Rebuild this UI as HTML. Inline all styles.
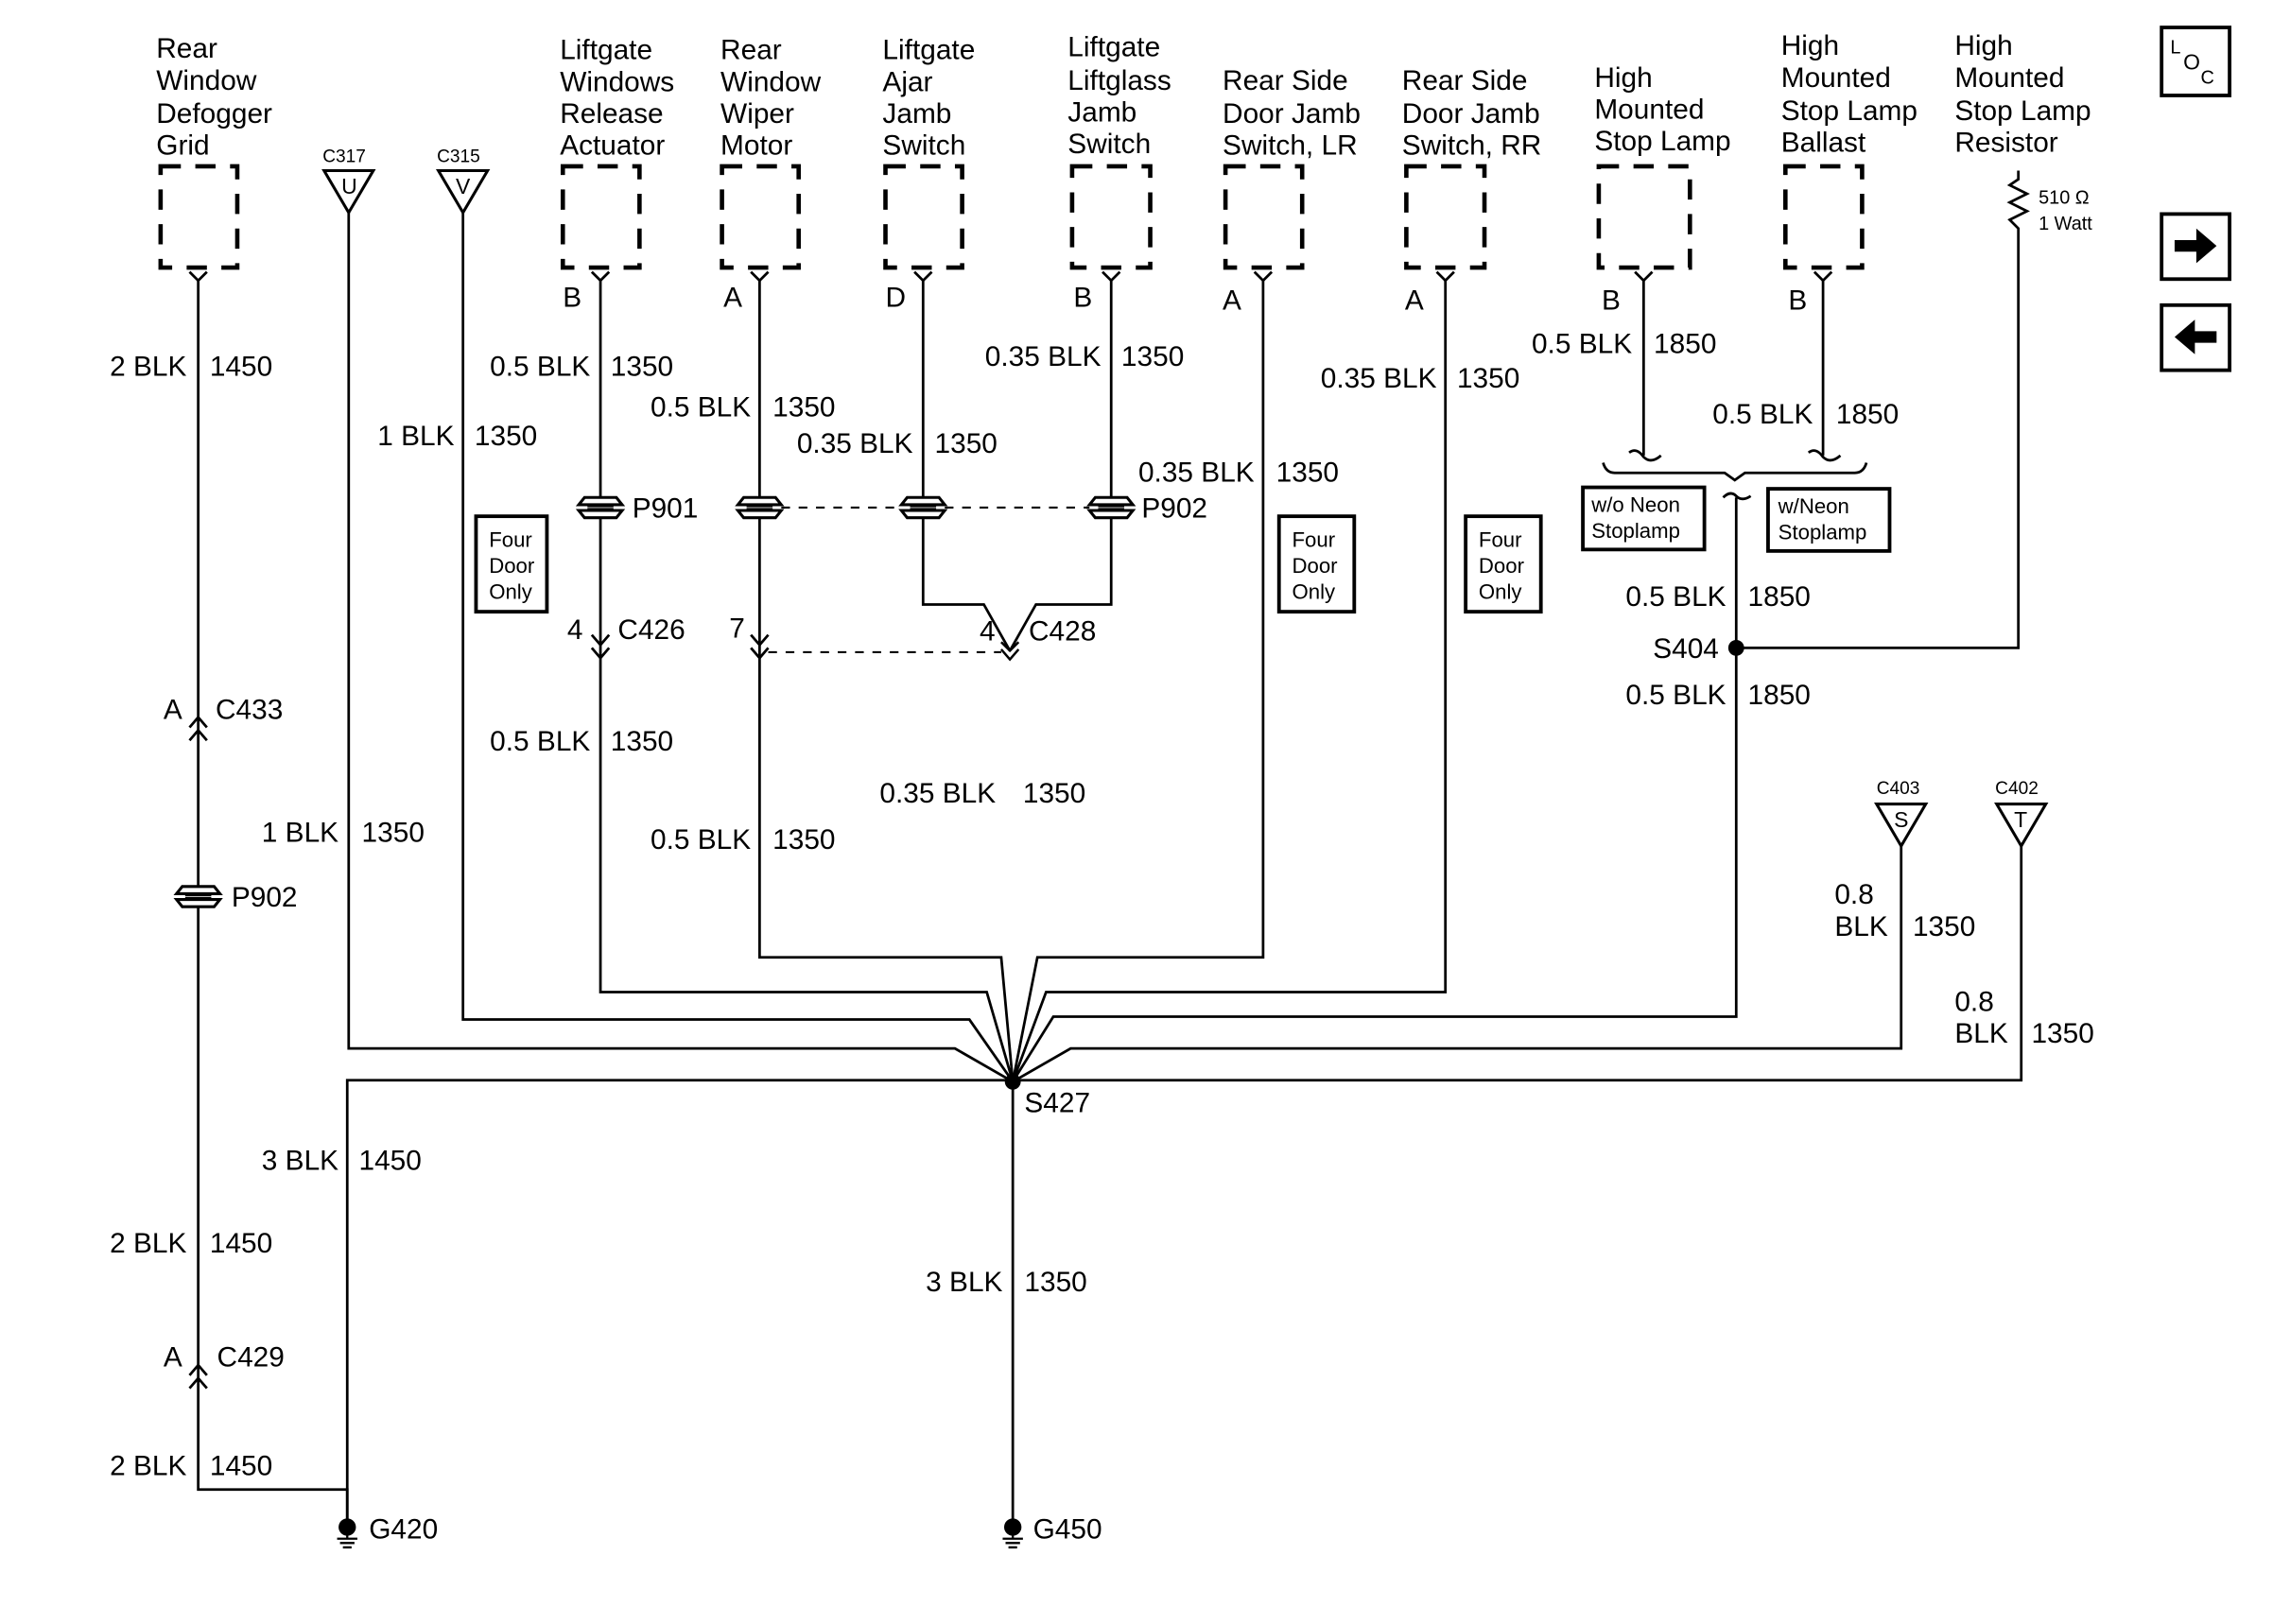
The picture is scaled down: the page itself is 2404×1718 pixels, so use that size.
<!DOCTYPE html>
<html><head><meta charset="utf-8"><style>
html,body{margin:0;padding:0;background:#fff}
svg{display:block}
text{font-family:"Liberation Sans",Arial,sans-serif;fill:#000}
</style></head><body>
<svg width="2404" height="1718" viewBox="0 0 1571 1123" preserveAspectRatio="none" xmlns="http://www.w3.org/2000/svg">
<defs>
<g id="pc"><rect x="-14" y="-7" width="28" height="14" fill="#fff"/><path d="M-15,-2 L-11,-7 H11 L15,-2 Z M-15,2 L-11,7 H11 L15,2 Z" fill="none" stroke="#000" stroke-width="2"/><path d="M-9,-1 H9 M-9,1 H9" stroke="#000" stroke-width="1.5"/></g>
<g id="yc"><path d="M-6,-6 L0,0 L6,-6" fill="none" stroke="#000" stroke-width="1.8"/></g>
<g id="dn"><path d="M-6,-7 L0,0 L6,-7 M-6,2 L0,9 L6,2" fill="none" stroke="#000" stroke-width="1.8"/></g>
<g id="up"><path d="M-6,7 L0,0 L6,7 M-6,-2 L0,-9 L6,-2" fill="none" stroke="#000" stroke-width="1.8"/></g>
<g id="gnd"><circle r="6" fill="#000"/><path d="M0,0 V8 M-7,8 H7 M-5,11 H5 M-3,14 H3" stroke="#000" stroke-width="1.5"/></g>
</defs>
<g font-size="19.5">
<text x="108" y="40">Rear</text><text x="108" y="62">Window</text><text x="108" y="85">Defogger</text><text x="108" y="107">Grid</text>
<text x="387" y="41">Liftgate</text><text x="387" y="63">Windows</text><text x="387" y="85">Release</text><text x="387" y="107">Actuator</text>
<text x="498" y="41">Rear</text><text x="498" y="63">Window</text><text x="498" y="85">Wiper</text><text x="498" y="107">Motor</text>
<text x="610" y="41">Liftgate</text><text x="610" y="63">Ajar</text><text x="610" y="85">Jamb</text><text x="610" y="107">Switch</text>
<text x="738" y="39">Liftgate</text><text x="738" y="62">Liftglass</text><text x="738" y="84">Jamb</text><text x="738" y="106">Switch</text>
<text x="845" y="62">Rear Side</text><text x="845" y="85">Door Jamb</text><text x="845" y="107">Switch, LR</text>
<text x="969" y="62">Rear Side</text><text x="969" y="85">Door Jamb</text><text x="969" y="107">Switch, RR</text>
<text x="1102" y="60">High</text><text x="1102" y="82">Mounted</text><text x="1102" y="104">Stop Lamp</text>
<text x="1231" y="38">High</text><text x="1231" y="60">Mounted</text><text x="1231" y="83">Stop Lamp</text><text x="1231" y="105">Ballast</text>
<text x="1351" y="38">High</text><text x="1351" y="60">Mounted</text><text x="1351" y="83">Stop Lamp</text><text x="1351" y="105">Resistor</text>
</g>
<g fill="none" stroke="#000" stroke-width="3" stroke-dasharray="14,10">
<rect x="111" y="115" width="53" height="70"/>
<rect x="389" y="115" width="53" height="70"/>
<rect x="499" y="115" width="53" height="70"/>
<rect x="612" y="115" width="53" height="70"/>
<rect x="741" y="115" width="54" height="70"/>
<rect x="847" y="115" width="53" height="70"/>
<rect x="972" y="115" width="54" height="70"/>
<rect x="1105" y="115" width="63" height="70"/>
<rect x="1234" y="115" width="53" height="70"/>
</g>
<g>
<use href="#yc" x="137" y="194"/><use href="#yc" x="415" y="194"/><use href="#yc" x="525" y="194"/><use href="#yc" x="638" y="194"/><use href="#yc" x="768" y="194"/><use href="#yc" x="873" y="194"/><use href="#yc" x="999" y="194"/><use href="#yc" x="1136" y="194"/><use href="#yc" x="1260" y="194"/>
</g>
<g font-size="19.5">
<text x="389" y="212">B</text><text x="500" y="212">A</text><text x="612" y="212">D</text><text x="742" y="212">B</text><text x="845" y="214">A</text><text x="971" y="214">A</text><text x="1107" y="214">B</text><text x="1236" y="214">B</text>
</g>
<g font-size="12.5"><text x="223" y="112">C317</text><text x="302" y="112">C315</text><text x="1297" y="549">C403</text><text x="1379" y="549">C402</text></g>
<g fill="none" stroke="#000" stroke-width="2"><path d="M224,118 H258 L241,147 Z"/><path d="M303,118 H337 L320,147 Z"/><path d="M1297,556 H1331 L1314,585 Z"/><path d="M1380,556 H1414 L1397,585 Z"/></g>
<g font-size="15"><text x="236" y="134">U</text><text x="315" y="134">V</text><text x="1309" y="572">S</text><text x="1392" y="572">T</text></g>
<g fill="none" stroke="#000" stroke-width="1.8">
<path d="M137,194 V1030 H240 V1056"/>
<path d="M241,147 V725 H660 L700,748"/>
<path d="M320,147 V705 H670 L700,748"/>
<path d="M415,194 V686 H682 L700,748"/>
<path d="M525,194 V662 H692 L700,748"/>
<path d="M638,194 V418 H680 L698,450"/>
<path d="M768,194 V418 H716 L698,450"/>
<path d="M873,194 V662 H717 L700,748"/>
<path d="M999,194 V686 H723 L700,748"/>
<path d="M1136,194 V315"/><path d="M1260,194 V315"/>
<path d="M1126,313 Q1131,309 1136,316 Q1141,321 1148,315"/>
<path d="M1250,313 Q1255,309 1260,316 Q1265,321 1272,315"/>
<path d="M1108,320 Q1110,327 1116,327 H1192 L1199,332 L1206,327 H1282 Q1288,327 1290,320"/>
<path d="M1191,344 Q1196,339 1200,343 Q1204,347 1210,343"/>
<path d="M1200,344 V703 H728 L700,748"/>
<path d="M1395,118 V124 L1389,128 L1401,134 L1389,140 L1401,146 L1389,152 L1395,158 V448 H1200"/>
<path d="M1314,585 V725 H740 L700,748"/>
<path d="M1397,585 V747 H240 V1056"/>
<path d="M700,748 V1056"/>
</g>
<g fill="none" stroke="#000" stroke-width="1.4" stroke-dasharray="6,6">
<path d="M540,351 H623 M653,351 H753"/>
<path d="M531,451 H692"/>
</g>
<circle cx="700" cy="748" r="5.5"/><circle cx="1200" cy="448" r="5.5"/>
<use href="#gnd" x="240" y="1056"/><use href="#gnd" x="700" y="1056"/>
<use href="#pc" x="415" y="351"/><use href="#pc" x="525" y="351"/><use href="#pc" x="638" y="351"/><use href="#pc" x="768" y="351"/><use href="#pc" x="137" y="620"/>
<use href="#dn" x="415" y="446"/><use href="#dn" x="525" y="446"/>
<path d="M692,444 L698,450 L704,444 M692,449 L698,456 L704,449" fill="none" stroke="#000" stroke-width="1.6"/>
<use href="#up" x="137" y="505"/><use href="#up" x="137" y="953"/>
<g font-size="19.5">
<text x="129" y="260" text-anchor="end">2 BLK</text><text x="145" y="260">1450</text>
<text x="314" y="308" text-anchor="end">1 BLK</text><text x="328" y="308">1350</text>
<text x="408" y="260" text-anchor="end">0.5 BLK</text><text x="422" y="260">1350</text>
<text x="519" y="288" text-anchor="end">0.5 BLK</text><text x="534" y="288">1350</text>
<text x="631" y="313" text-anchor="end">0.35 BLK</text><text x="646" y="313">1350</text>
<text x="761" y="253" text-anchor="end">0.35 BLK</text><text x="775" y="253">1350</text>
<text x="867" y="333" text-anchor="end">0.35 BLK</text><text x="882" y="333">1350</text>
<text x="993" y="268" text-anchor="end">0.35 BLK</text><text x="1007" y="268">1350</text>
<text x="1128" y="244" text-anchor="end">0.5 BLK</text><text x="1143" y="244">1850</text>
<text x="1253" y="293" text-anchor="end">0.5 BLK</text><text x="1269" y="293">1850</text>
<text x="1193" y="419" text-anchor="end">0.5 BLK</text><text x="1208" y="419">1850</text>
<text x="1188" y="455" text-anchor="end">S404</text>
<text x="1193" y="487" text-anchor="end">0.5 BLK</text><text x="1208" y="487">1850</text>
<text x="437" y="358">P901</text><text x="789" y="358">P902</text><text x="160" y="627">P902</text>
<text x="392" y="442">4</text><text x="427" y="442">C426</text>
<text x="504" y="441">7</text>
<text x="677" y="443">4</text><text x="711" y="443">C428</text>
<text x="113" y="497">A</text><text x="149" y="497">C433</text>
<text x="408" y="519" text-anchor="end">0.5 BLK</text><text x="422" y="519">1350</text>
<text x="608" y="555">0.35 BLK</text><text x="707" y="555">1350</text>
<text x="234" y="582" text-anchor="end">1 BLK</text><text x="250" y="582">1350</text>
<text x="519" y="587" text-anchor="end">0.5 BLK</text><text x="534" y="587">1350</text>
<text x="1268" y="625">0.8</text><text x="1268" y="647">BLK</text><text x="1322" y="647">1350</text>
<text x="1351" y="699">0.8</text><text x="1351" y="721">BLK</text><text x="1404" y="721">1350</text>
<text x="708" y="769">S427</text>
<text x="234" y="809" text-anchor="end">3 BLK</text><text x="248" y="809">1450</text>
<text x="129" y="866" text-anchor="end">2 BLK</text><text x="145" y="866">1450</text>
<text x="693" y="893" text-anchor="end">3 BLK</text><text x="708" y="893">1350</text>
<text x="113" y="945">A</text><text x="150" y="945">C429</text>
<text x="129" y="1020" text-anchor="end">2 BLK</text><text x="145" y="1020">1450</text>
<text x="255" y="1064">G420</text><text x="714" y="1064">G450</text>
</g>
<g fill="none" stroke="#000" stroke-width="2.5">
<rect x="329" y="357" width="49" height="66"/><rect x="884" y="357" width="52" height="66"/><rect x="1013" y="357" width="52" height="66"/>
<rect x="1094" y="337" width="84" height="43"/><rect x="1222" y="338" width="84" height="43"/>
<rect x="1494" y="19" width="47" height="47"/><rect x="1494" y="148" width="47" height="45"/><rect x="1494" y="211" width="47" height="45"/>
</g>
<g font-size="14.5">
<text x="338" y="378">Four</text><text x="338" y="396">Door</text><text x="338" y="414">Only</text>
<text x="893" y="378">Four</text><text x="893" y="396">Door</text><text x="893" y="414">Only</text>
<text x="1022" y="378">Four</text><text x="1022" y="396">Door</text><text x="1022" y="414">Only</text>
<text x="1100" y="354">w/o Neon</text><text x="1100" y="372">Stoplamp</text>
<text x="1229" y="355">w/Neon</text><text x="1229" y="373">Stoplamp</text>
</g>
<g font-size="13"><text x="1409" y="141">510 Ω</text><text x="1409" y="159">1 Watt</text>
<text x="1500" y="37">L</text><text x="1509" y="48" font-size="15">O</text><text x="1521" y="58">C</text></g>
<path d="M1503,166 H1518 V158 L1532,170 L1518,182 V174 H1503 Z" fill="#000"/>
<path d="M1532,229 H1517 V221 L1503,233 L1517,245 V237 H1532 Z" fill="#000"/>
</svg>
</body></html>
